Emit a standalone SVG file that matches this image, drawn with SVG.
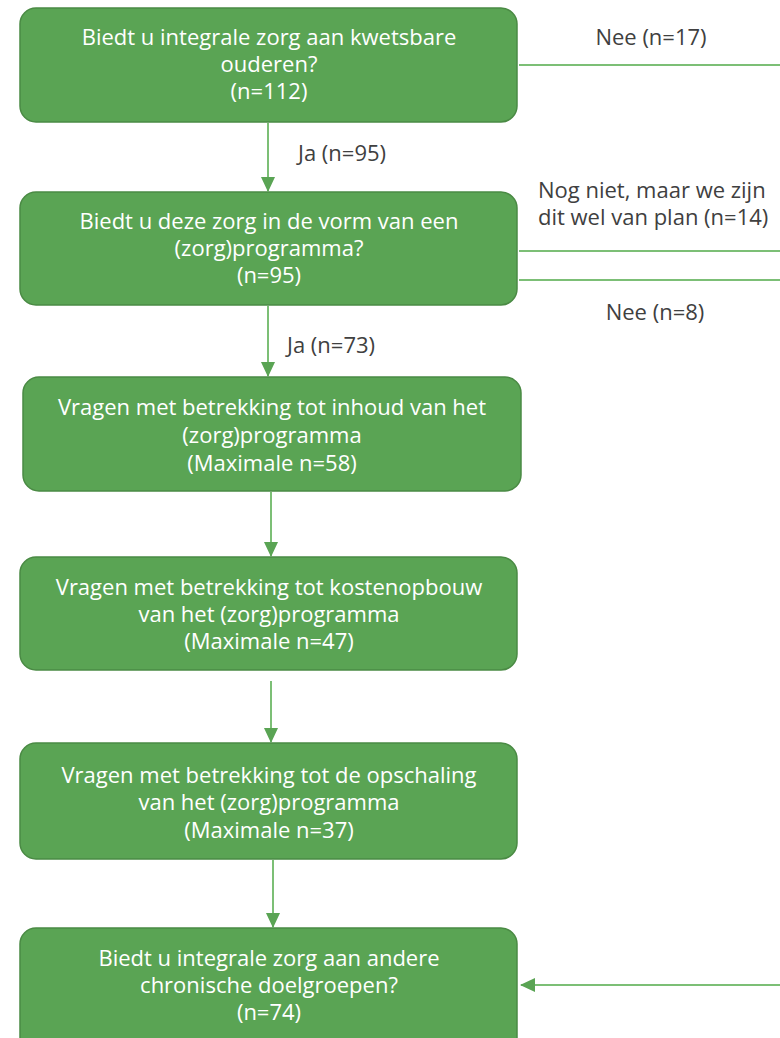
<svg xmlns="http://www.w3.org/2000/svg" width="780" height="1038" viewBox="0 0 780 1038">
<style>
.box{fill:#5aa454;stroke:#4a8a44;stroke-width:1.5}
.bt{font-family:"Open Sans","Liberation Sans",sans-serif;font-size:22px;fill:#ffffff;text-anchor:middle}
.lb{font-family:"Open Sans","Liberation Sans",sans-serif;font-size:22px;fill:#404040}
.ln{stroke:#7cbf76;stroke-width:2;fill:none}
</style>
<defs>
<marker id="ah2" markerWidth="16" markerHeight="16" refX="14" refY="8" orient="auto" markerUnits="userSpaceOnUse" viewBox="0 0 16 16">
<path d="M0,1 L15,8 L0,15 Z" fill="#5aa454"/>
</marker>
</defs>
<g id="connectors">
<line class="ln" x1="268" y1="123" x2="268" y2="191" marker-end="url(#ah2)"/>
<line class="ln" x1="268" y1="306" x2="268" y2="376" marker-end="url(#ah2)"/>
<line class="ln" x1="271" y1="492" x2="271" y2="556" marker-end="url(#ah2)"/>
<line class="ln" x1="271" y1="681" x2="271" y2="742" marker-end="url(#ah2)"/>
<line class="ln" x1="273" y1="860" x2="273" y2="927" marker-end="url(#ah2)"/>
<line class="ln" x1="519" y1="65" x2="780" y2="65"/>
<line class="ln" x1="519" y1="251" x2="780" y2="251"/>
<line class="ln" x1="519" y1="280" x2="780" y2="280"/>
<line class="ln" x1="780" y1="985" x2="521" y2="985" marker-end="url(#ah2)"/>
<text class="lb" x="651" y="45" text-anchor="middle">Nee (n=17)</text>
<text class="lb" x="298" y="161">Ja (n=95)</text>
<text class="lb" x="538" y="198">Nog niet, maar we zijn</text>
<text class="lb" x="538" y="225">dit wel van plan (n=14)</text>
<text class="lb" x="655" y="320" text-anchor="middle">Nee (n=8)</text>
<text class="lb" x="287" y="353">Ja (n=73)</text>
</g>
<g id="n1">
<rect class="box" x="20" y="8" width="497" height="114" rx="16"/>
<text class="bt" x="269" y="45">Biedt u integrale zorg aan kwetsbare</text>
<text class="bt" x="269" y="72">ouderen?</text>
<text class="bt" x="269" y="99">(n=112)</text>
</g>
<g id="n2">
<rect class="box" x="20" y="192" width="497" height="113" rx="16"/>
<text class="bt" x="269" y="229">Biedt u deze zorg in de vorm van een</text>
<text class="bt" x="269" y="256">(zorg)programma?</text>
<text class="bt" x="269" y="283">(n=95)</text>
</g>
<g id="n3">
<rect class="box" x="23" y="377" width="498" height="114" rx="16"/>
<text class="bt" x="272" y="415">Vragen met betrekking tot inhoud van het</text>
<text class="bt" x="272" y="443">(zorg)programma</text>
<text class="bt" x="272" y="471">(Maximale n=58)</text>
</g>
<g id="n4">
<rect class="box" x="20" y="557" width="497" height="113" rx="16"/>
<text class="bt" x="269" y="595">Vragen met betrekking tot kostenopbouw</text>
<text class="bt" x="269" y="622">van het (zorg)programma</text>
<text class="bt" x="269" y="649">(Maximale n=47)</text>
</g>
<g id="n5">
<rect class="box" x="20" y="743" width="497" height="116" rx="16"/>
<text class="bt" x="269" y="783">Vragen met betrekking tot de opschaling</text>
<text class="bt" x="269" y="810">van het (zorg)programma</text>
<text class="bt" x="269" y="838">(Maximale n=37)</text>
</g>
<g id="n6">
<rect class="box" x="20" y="928" width="497" height="130" rx="16"/>
<text class="bt" x="269" y="966">Biedt u integrale zorg aan andere</text>
<text class="bt" x="269" y="993">chronische doelgroepen?</text>
<text class="bt" x="269" y="1020">(n=74)</text>
</g>
</svg>
